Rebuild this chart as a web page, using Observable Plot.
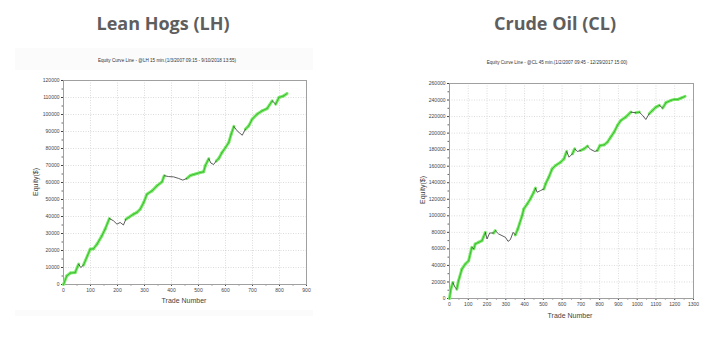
<!DOCTYPE html>
<html><head><meta charset="utf-8">
<script src="https://cdn.jsdelivr.net/npm/d3@7"></script>
<script src="https://cdn.jsdelivr.net/npm/@observablehq/plot@0.6"></script>
<style>
html,body{margin:0;padding:0;background:#fff;width:721px;height:341px;overflow:hidden;position:relative;font-family:Arial,"Liberation Sans",sans-serif;}
.title{position:absolute;font-family:"Open Sans";font-weight:700;font-size:18px;line-height:18px;color:#5e5e5e;transform:translateX(-50%);white-space:nowrap;}
.sub{position:absolute;font-size:4.6px;line-height:5px;color:#333;transform:translateX(-50%);white-space:nowrap;}
.xl{position:absolute;font-size:7px;line-height:7px;color:#444;transform:translateX(-50%);white-space:nowrap;}
.yl{position:absolute;font-size:7px;line-height:7px;color:#444;transform:translate(-50%,-50%) rotate(-90deg);white-space:nowrap;}
.chart{position:absolute;}
.panel{position:absolute;background:#fbfbfb;}
</style></head>
<body>
<div class="panel" style="left:15px;top:48px;width:298px;height:268px"></div>
<div class="title" style="left:163px;top:14px">Lean Hogs (LH)</div>
<div class="title" style="left:555px;top:14px">Crude Oil (CL)</div>
<div class="sub" style="left:167px;top:58px">Equity Curve Line - @LH 15 min.(1/3/2007 09:15 - 9/10/2018 13:55)</div>
<div class="sub" style="left:557px;top:60px">Equity Curve Line - @CL 45 min.(1/2/2007 09:45 - 12/29/2017 15:00)</div>
<div id="lh" class="chart" style="left:15px;top:70px"></div>
<div id="cl" class="chart" style="left:400px;top:73px"></div>
<div class="xl" style="left:184px;top:297px">Trade Number</div>
<div class="yl" style="left:35px;top:182px">Equity($)</div>
<div class="xl" style="left:570px;top:312px">Trade Number</div>
<div class="yl" style="left:422px;top:190px">Equity($)</div>
<script>
// Lean Hogs (LH)
const lhTrade = [0,12,25,43,56,64,74,99,111,124,142,154,170,185,198,210,222,231,241,260,272,284,297,309,328,346,365,373,389,408,426,442,457,470,482,507,519,525,538,546,556,566,575,587,600,612,621,631,643,662,674,686,699,717,736,754,773,786,798,816,828];
const lhEquity = [0,5000,6700,7000,12000,10000,11400,20800,21000,23700,28600,32500,38800,37500,35500,36500,35000,38400,39400,41400,42400,44300,48200,53100,55100,58000,60400,64000,63500,63300,62400,61400,62400,64100,64700,65900,66300,69800,74000,71400,70600,72700,74100,77600,80600,83500,88400,93000,90400,87800,91400,93300,97300,100200,102200,103500,108000,106100,110000,111000,112300];
const lhXTicks = [0,100,200,300,400,500,600,700,800,900];
const lhXMinor = [50,150,250,350,450,550,650,750,850];
const lhYTicks = [0,10000,20000,30000,40000,50000,60000,70000,80000,90000,100000,110000,120000];
const lhYMinor = [5000,15000,25000,35000,45000,55000,65000,75000,85000,95000,105000,115000];

// Crude Oil (CL)
const clTrade = [0,7,18,30,39,48,66,84,102,119,130,137,155,173,191,200,214,235,244,262,280,298,312,324,339,351,364,387,396,414,431,449,458,467,485,503,512,529,547,565,592,610,624,637,655,667,681,699,717,735,753,774,788,802,824,841,859,877,895,913,939,966,993,1011,1029,1046,1064,1082,1100,1118,1136,1153,1180,1198,1216,1234,1255];
const clEquity = [0,11300,19400,13300,11300,21400,35500,41600,45700,61800,60000,65900,67900,69900,80000,72000,79200,79200,82000,78000,76000,74000,69100,71100,80000,76800,84000,100200,108300,114300,120400,128500,133500,128500,130500,132500,138600,146700,156800,160800,164800,168900,177800,170900,175000,181000,177800,179000,181000,184200,180200,177800,179000,185000,185800,189000,195100,201200,209300,215300,219400,225400,224600,225400,221400,216500,223400,227500,231500,233500,230300,236800,239600,240800,240800,242400,244400];
const clXTicks = [0,100,200,300,400,500,600,700,800,900,1000,1100,1200,1300];
const clXMinor = [50,150,250,350,450,550,650,750,850,950,1050,1150,1250];
const clYTicks = [0,20000,40000,60000,80000,100000,120000,140000,160000,180000,200000,220000,240000,260000];
const clYMinor = [10000,30000,50000,70000,90000,110000,130000,150000,170000,190000,210000,230000,250000];

function segments(xs, ys) {
  const segs = [];
  let peak = -Infinity;
  for (let i = 0; i < xs.length; i++) {
    const isHigh = ys[i] >= peak;
    if (isHigh) peak = ys[i];
    if (i > 0) segs.push({x1: xs[i-1], y1: ys[i-1], x2: xs[i], y2: ys[i], high: isHigh});
  }
  return segs;
}

function chart(xs, ys, o) {
  const segs = segments(xs, ys);
  const green = segs.filter(d => d.high);
  const black = segs.filter(d => !d.high);
  const fmt = d3.format("d");
  return Plot.plot({
    width: o.width, height: o.height,
    marginLeft: o.ml, marginRight: o.mr, marginTop: o.mt, marginBottom: o.mb,
    style: {background: "#fff", fontFamily: "Arial, 'Liberation Sans', sans-serif"},
    x: {domain: o.xd},
    y: {domain: o.yd},
    marks: [
      Plot.gridX(o.xt, {stroke: "#c4c4c4", strokeOpacity: 1, strokeDasharray: "1,1.5", strokeWidth: 0.6}),
      Plot.gridY(o.yt, {stroke: "#c4c4c4", strokeOpacity: 1, strokeDasharray: "1,1.5", strokeWidth: 0.6}),
      Plot.axisX(o.xt, {tickSize: 2, tickPadding: 2, fontSize: 5, color: "#444", label: null, tickFormat: fmt}),
      Plot.axisX(o.xm, {tickSize: 1.5, text: null, label: null, color: "#666"}),
      Plot.axisY(o.yt, {tickSize: 2, tickPadding: 2, fontSize: 5, color: "#444", label: null, tickFormat: fmt}),
      Plot.axisY(o.ym, {tickSize: 1.5, text: null, label: null, color: "#666"}),
      Plot.frame({stroke: "#a0a0a0", strokeWidth: 1}),
      Plot.link(green, {x1: "x1", y1: "y1", x2: "x2", y2: "y2", stroke: "#7ae868", strokeWidth: 3, strokeLinecap: "round"}),
      Plot.link(green, {x1: "x1", y1: "y1", x2: "x2", y2: "y2", stroke: "#3dbd33", strokeWidth: 1, strokeLinecap: "round"}),
      Plot.link(black, {x1: "x1", y1: "y1", x2: "x2", y2: "y2", stroke: "#333", strokeWidth: 0.8})
    ]
  });
}

document.getElementById("lh").append(chart(lhTrade, lhEquity, {
  width: 300, height: 240, ml: 48, mr: 9, mt: 10, mb: 26,
  xd: [0, 900], yd: [0, 120000], xt: lhXTicks, xm: lhXMinor, yt: lhYTicks, ym: lhYMinor
}));
document.getElementById("cl").append(chart(clTrade, clEquity, {
  width: 305, height: 250, ml: 49, mr: 12, mt: 10, mb: 25,
  xd: [0, 1300], yd: [0, 260000], xt: clXTicks, xm: clXMinor, yt: clYTicks, ym: clYMinor
}));
</script>
</body></html>
